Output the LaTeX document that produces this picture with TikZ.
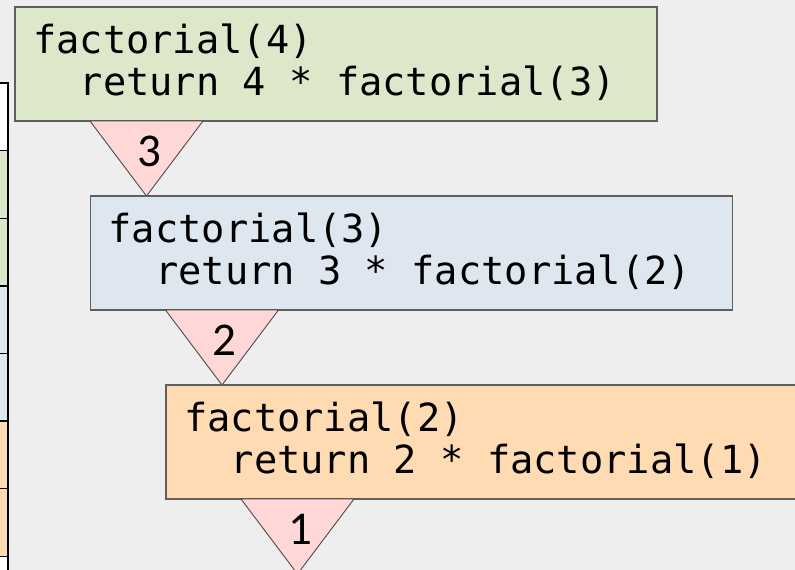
\documentclass[tikz,border=0pt]{standalone}
\usepackage{fontspec}
\newfontfamily\codefont{DejaVu Sans Mono}
\newfontfamily\numfont{Carlito}
\definecolor{bgc}{RGB}{238,238,238}
\definecolor{greenc}{RGB}{221,232,203}
\definecolor{bluec}{RGB}{222,230,239}
\definecolor{orangec}{RGB}{255,219,180}
\definecolor{pinkc}{RGB}{255,215,215}
\definecolor{edgec}{RGB}{95,95,95}
\tikzset{
  callbox/.style={draw=edgec, line width=1.3pt},
  codeline/.style={anchor=base west, inner sep=0pt, font=\codefont\fontsize{38.7}{42}\selectfont},
  tri/.style={draw=edgec!80!black, line width=0.9pt, fill=pinkc},
  trinum/.style={inner sep=0pt, font=\numfont\fontsize{47}{50}\selectfont},
  tabcell/.style={draw=black, line width=1.4pt},
}
\begin{document}
\begin{tikzpicture}[x=1pt, y=-1pt]
\useasboundingbox (0,0) rectangle (795,570);
\fill[bgc] (0,0) rectangle (795,570);
% left table strip
\foreach \i/\c in {0/white,1/greenc,2/greenc,3/bluec,4/bluec,5/orangec,6/orangec,7/white}{
  \filldraw[tabcell, fill=\c] (-5,{83+67.6*\i}) rectangle (8,{83+67.6*(\i+1)});
}
% boxes
\foreach \k/\c/\n/\m in {0/greenc/4/3, 1/bluec/3/2, 2/orangec/2/1}{
  \pgfmathsetmacro{\dx}{75.5*\k}
  \pgfmathsetmacro{\dy}{189*\k}
  \filldraw[callbox, fill=\c] (15+\dx,7+\dy) rectangle (657+\dx,121+\dy);
  \node[codeline] (l1-\k) at (33+\dx,53+\dy) {factorial(\n)};
  \node[codeline] (l2-\k) at (33+\dx,95+\dy) {\ \ return \n\ * factorial(\m)};
  \filldraw[tri] (90+\dx,121+\dy) -- (203+\dx,121+\dy) -- (146.5+\dx,196+\dy) -- cycle;
  \node[trinum] (t-\k) at (149+\dx,151+\dy) {\m};
}
\end{tikzpicture}
\end{document}
